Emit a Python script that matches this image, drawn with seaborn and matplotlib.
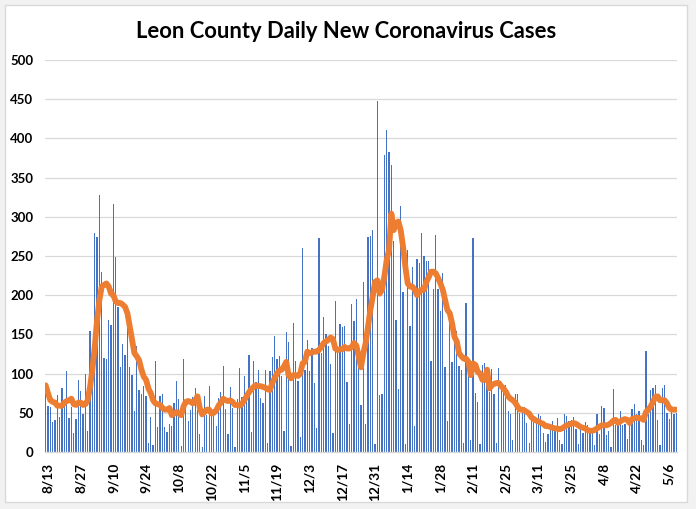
import numpy as np
import pandas as pd
import matplotlib
matplotlib.use("Agg")
import matplotlib.pyplot as plt
import seaborn as sns
from matplotlib.patches import Rectangle

# ---- data ----
start_date = "2020-08-12"
cases = [
    80, 59, 57, 38, 41, 73, 45, 82, 66, 103, 43, 58, 24, 42, 92, 78, 48, 99, 27, 154,
    122, 279, 274, 328, 230, 120, 119, 168, 162, 316, 249, 185, 108, 138, 124, 163, 108, 98, 52, 135,
    79, 74, 84, 71, 12, 45, 9, 116, 32, 71, 74, 32, 26, 36, 33, 62, 91, 68, 8, 119,
    59, 40, 54, 70, 82, 54, 23, 6, 71, 47, 84, 47, 55, 33, 69, 77, 110, 55, 23, 83,
    56, 6, 68, 107, 70, 97, 73, 124, 26, 116, 89, 105, 69, 62, 104, 11, 103, 121, 148, 119,
    122, 97, 27, 153, 140, 8, 165, 116, 91, 19, 260, 104, 143, 103, 133, 88, 31, 273, 126, 172,
    151, 135, 112, 24, 193, 133, 163, 159, 161, 89, 36, 189, 167, 195, 120, 60, 217, 36, 274, 276,
    283, 10, 448, 73, 74, 379, 411, 383, 366, 269, 168, 80, 314, 204, 10, 258, 161, 236, 33, 246,
    241, 279, 250, 244, 243, 116, 208, 277, 208, 180, 228, 108, 40, 182, 115, 147, 154, 110, 105, 11,
    190, 100, 15, 273, 75, 64, 10, 111, 114, 85, 77, 106, 74, 11, 107, 89, 79, 85, 52, 48,
    15, 74, 74, 50, 50, 57, 37, 11, 45, 41, 40, 48, 46, 24, 13, 23, 34, 40, 28, 43,
    15, 10, 48, 46, 40, 41, 45, 29, 10, 29, 24, 38, 34, 24, 24, 9, 48, 23, 59, 56,
    22, 27, 6, 80, 34, 34, 52, 34, 36, 17, 34, 55, 61, 48, 52, 15, 9, 129, 48, 79,
    82, 85, 41, 9, 82, 85, 50, 42, 54, 48, 50,
]
avg7 = [
    85, 75, 66, 64, 63, 59, 59, 59, 63, 65, 66, 68, 61, 60, 63, 63, 60, 61, 66, 83,
    105, 134, 168, 194, 211, 213, 215, 211, 202, 200, 192, 190, 190, 188, 185, 177, 160, 143, 126, 122,
    117, 105, 96, 92, 81, 75, 66, 62, 61, 60, 56, 54, 54, 56, 47, 49, 51, 49, 47, 58,
    64, 65, 64, 62, 66, 71, 56, 48, 51, 54, 54, 49, 50, 53, 59, 63, 68, 66, 65, 66,
    64, 60, 60, 59, 61, 66, 71, 76, 80, 83, 85, 84, 84, 83, 82, 80, 79, 88, 94, 100,
    104, 105, 109, 115, 98, 94, 98, 98, 97, 100, 113, 115, 128, 126, 127, 128, 128, 130, 134, 139,
    141, 143, 146, 144, 132, 130, 131, 131, 134, 132, 132, 134, 139, 136, 122, 108, 126, 139, 160, 181,
    198, 217, 219, 202, 207, 224, 245, 258, 304, 283, 292, 294, 283, 262, 236, 215, 211, 211, 207, 200,
    205, 207, 207, 217, 223, 230, 230, 228, 222, 215, 207, 194, 181, 177, 164, 147, 141, 126, 122, 119,
    119, 115, 98, 113, 111, 102, 100, 92, 92, 105, 81, 85, 87, 88, 88, 84, 81, 77, 71, 68,
    66, 63, 58, 54, 54, 53, 51, 49, 44, 42, 40, 39, 37, 36, 33, 33, 32, 31, 30, 30,
    29, 30, 32, 34, 35, 36, 37, 36, 34, 32, 31, 30, 28, 27, 27, 28, 30, 32, 34, 34,
    34, 35, 37, 40, 41, 37, 39, 41, 42, 41, 37, 42, 43, 44, 43, 43, 41, 51, 54, 58,
    64, 70, 71, 66, 66, 66, 62, 56, 54, 54, 54,
]
tick_labels = ["8/13", "8/27", "9/10", "9/24", "10/8", "10/22", "11/5", "11/19", "12/3",
               "12/17", "12/31", "1/14", "1/28", "2/11", "2/25", "3/11", "3/25", "4/8",
               "4/22", "5/6"]
y_ticks = [0, 50, 100, 150, 200, 250, 300, 350, 400, 450, 500]
title = "Leon County Daily New Coronavirus Cases"

n = min(len(cases), len(avg7))
dates = pd.date_range(start_date, periods=n, freq="D")
ref = pd.Timestamp("2020-08-13")
day = (dates - ref).days.values
df = pd.DataFrame({"day": day, "cases": cases[:n], "avg": avg7[:n]})

sns.set_style("white")
plt.rcParams["font.family"] = ["Lato", "DejaVu Sans"]

W, H = 696, 509
fig = plt.figure(figsize=(W / 100, H / 100), dpi=100)
fig.patch.set_facecolor("#F2F2F2")
fig.patches.append(Rectangle((5 / W, 1 - 502 / H), (687 - 5) / W, (502 - 5) / H,
                             transform=fig.transFigure, facecolor="white",
                             edgecolor="#D9D9D9", lw=1, zorder=-10))

left, right, top, bottom = 44.5, 677.5, 60, 452
ax = fig.add_axes([left / W, 1 - bottom / H, (right - left) / W, (bottom - top) / H])
ax.set_zorder(5)
ax.set_facecolor("white")

sns.barplot(data=df, x="day", y="cases", native_scale=True, color="#4472C4",
            saturation=1, width=0.55, errorbar=None, linewidth=0, ax=ax, zorder=2)
sns.lineplot(data=df, x="day", y="avg", color="#ED7D31", linewidth=4.2, ax=ax,
             zorder=3, solid_capstyle="round", solid_joinstyle="round")

ax.set_xlim(df["day"].min() - 0.5, df["day"].max() + 0.5)
ax.set_ylim(0, 500)
ax.set_yticks(y_ticks)
ax.set_yticklabels([str(v) for v in y_ticks], fontsize=9.5, fontweight="bold", color="black")


def label_day(lbl):
    m, d = (int(v) for v in lbl.split("/"))
    year = 2020 if m >= 8 else 2021
    return (pd.Timestamp(year=year, month=m, day=d) - ref).days


ax.set_xticks([label_day(l) for l in tick_labels])
ax.set_xticklabels(tick_labels, rotation=90, fontsize=9.8, fontweight="bold", color="black")
ax.tick_params(axis="both", length=0)
ax.tick_params(axis="y", pad=8)
ax.tick_params(axis="x", pad=8)
ax.set_xlabel("")
ax.set_ylabel("")
ax.yaxis.grid(True, color="#D9D9D9", lw=0.9, zorder=0)
ax.xaxis.grid(False)
ax.set_axisbelow(True)
for s in ["top", "right", "left"]:
    ax.spines[s].set_visible(False)
ax.spines["bottom"].set_color("#D9D9D9")
ax.spines["bottom"].set_linewidth(1)

fig.text(346 / W, 1 - 32 / H, title, ha="center", va="center", fontsize=15.8,
         fontweight="bold", color="black")

fig.savefig("out.png", dpi=100, facecolor=fig.get_facecolor())
